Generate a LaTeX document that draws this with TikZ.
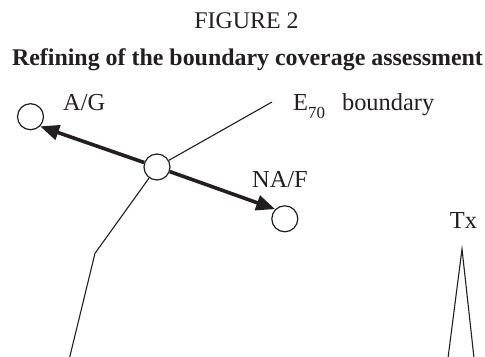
\documentclass[tikz,border=0pt]{standalone}
\usepackage{fontspec}
\setmainfont{Liberation Serif}
\usetikzlibrary{arrows.meta}
\definecolor{ink}{RGB}{35,31,32}
\tikzset{
  site/.style={circle, draw=ink, fill=white, line width=1.2bp, minimum size=26bp, inner sep=0pt},
  lbl/.style={anchor=base, text=ink, inner sep=0pt, font=\fontsize{24.5}{28}\selectfont},
  bound/.style={draw=ink, line width=1.1bp},
  move/.style={draw=ink, line width=3.6bp, -{Triangle[length=19bp,width=15bp]}},
}

\begin{document}
\begin{tikzpicture}[x=1bp, y=-1bp]
  \useasboundingbox (0,0) rectangle (485,356);
  % Titles
  \node[lbl, font=\fontsize{24}{28}\selectfont] (fig) at (246.5,28) {FIGURE 2};
  \node[lbl, font=\fontsize{24}{28}\selectfont\bfseries] (title) at (247.5,65) {Refining of the boundary coverage assessment};

  % Sites
  \node[site] (ag) at (30.5,116.7) {};
  \node[site] (mid) at (157,167) {};
  \node[site] (naf) at (284.8,218.8) {};

  % Labels
  \node[lbl, anchor=base west] (aglbl) at (63,110.5) {A/G};
  \node[lbl, anchor=base west] (e70) at (293,110.5) {E\raisebox{-8bp}{\fontsize{17}{17}\selectfont 70}\hspace{17bp}boundary};
  \node[lbl] (naflbl) at (280,187) {NA/F};
  \node[lbl] (tx) at (463.5,228) {Tx};

  % Boundary
  \coordinate (bend) at (95,253.3);
  \coordinate (bot) at (69.5,358);
  \coordinate (top) at (272,102);
  \draw[bound] (top) -- (mid);
  \draw[bound] (mid) -- (bend) -- (bot);

  % Transmitter
  \coordinate (apex) at (462,249);
  \coordinate (txl) at (448,358);
  \coordinate (txr) at (474,358);
  \draw[bound] (txl) -- (apex) -- (txr);

  % Arrows
  \draw[move] (mid) -- (ag.south east);
  \draw[move] (mid) -- (naf.north west);
\end{tikzpicture}
\end{document}
